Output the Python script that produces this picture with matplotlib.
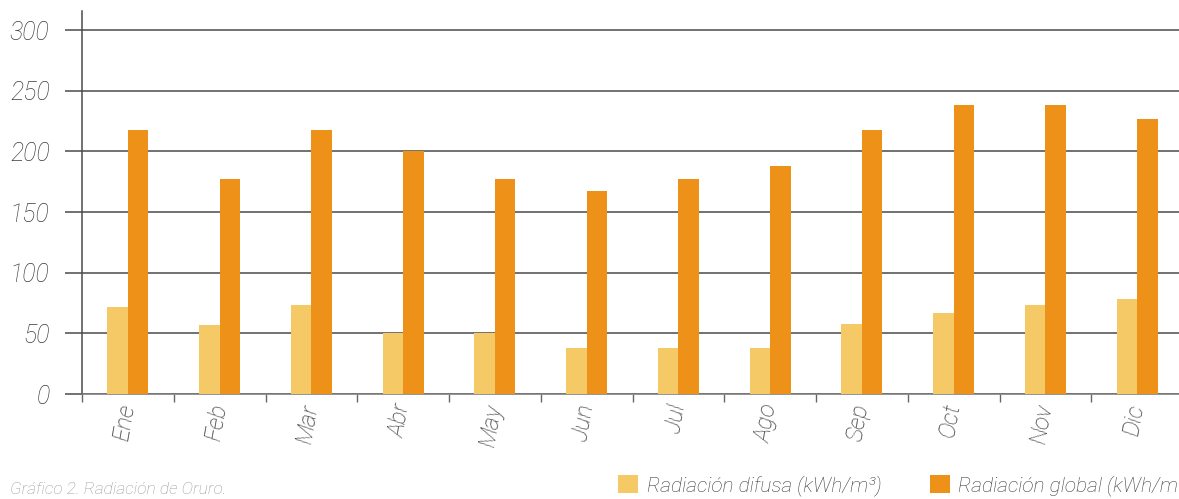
import matplotlib
matplotlib.use("Agg")
import matplotlib.pyplot as plt
from matplotlib.patches import Patch
import numpy as np

months = ["Ene", "Feb", "Mar", "Abr", "May", "Jun", "Jul", "Ago", "Sep", "Oct", "Nov", "Dic"]
difusa = [72, 57, 73, 50, 50, 38, 38, 38, 58, 67, 73, 78]
global_rad = [218, 177, 218, 200, 177, 167, 177, 188, 218, 238, 238, 227]
yticks = [0, 50, 100, 150, 200, 250, 300]
label_difusa = "Radiación difusa (kWh/m³)"
label_global = "Radiación global (kWh/m³)"
caption = "Gráfico 2. Radiación de Oruro."

c_dif = "#F5CA66"
c_glo = "#EE9119"
grid_c = "#4a4a4a"
text_c = "#3c3c3c"

plt.rcParams['font.family'] = ['Roboto', 'DejaVu Sans']

W, H = 1179, 499
fig = plt.figure(figsize=(W / 100, H / 100), dpi=100)
left = 82 / W
bottom = (H - 394) / H
top = (H - 11) / H
width = 12 * 91.75 / W
ax = fig.add_axes([left, bottom, width, top - bottom])

x = np.arange(len(months))
bw = 0.2234
ax.bar(x - bw / 2, difusa, width=bw, color=c_dif, zorder=3)
ax.bar(x + bw / 2, global_rad, width=bw, color=c_glo, zorder=3)

ax.set_xlim(-0.5, 11.5)
ax.set_ylim(0, 315.7)

ax.set_yticks(yticks)
ax.set_yticklabels([str(v) for v in yticks], fontsize=18, style='italic',
                   fontweight='light', color=text_c)
ax.yaxis.grid(True, color=grid_c, linewidth=1.1, zorder=0)
ax.set_axisbelow(True)
ax.tick_params(axis='y', length=12.3, width=1.1, color=grid_c, pad=11, direction='out')

ax.set_xticks(np.arange(-0.5, 12, 1.0))
ax.set_xticklabels([])
ax.set_xticks(x, minor=True)
ax.set_xticklabels(months, minor=True, rotation=80, rotation_mode='anchor',
                   ha='right', va='center', fontsize=17, style='italic',
                   fontweight='light', color=text_c)
ax.tick_params(axis='x', which='major', length=6, width=1.0, color="#666666", direction='out')
ax.tick_params(axis='x', which='minor', length=0, pad=7)

for s in ['top', 'right']:
    ax.spines[s].set_visible(False)
ax.spines['left'].set_color(grid_c)
ax.spines['left'].set_linewidth(1.1)
ax.spines['bottom'].set_color("#777777")
ax.spines['bottom'].set_linewidth(1.1)

handles = [Patch(facecolor=c_dif, edgecolor='none', label=label_difusa),
           Patch(facecolor=c_glo, edgecolor='none', label=label_global)]
fig.legend(handles=handles, loc='upper left', bbox_to_anchor=(618 / W, (H - 475) / H),
           ncol=2, frameon=False, borderpad=0, borderaxespad=0,
           handlelength=0.96, handleheight=0.96, handletextpad=0.43,
           columnspacing=2.3, prop={'style': 'italic', 'weight': 'light', 'size': 15})
leg = fig.legends[0]
for t in leg.get_texts():
    t.set_color(text_c)

fig.text(10 / W, (H - 490) / H, caption, fontsize=12.5, style='italic',
         fontweight='light', color="#9a9a9a", va='center', ha='left')

fig.savefig("out.png", dpi=100)
